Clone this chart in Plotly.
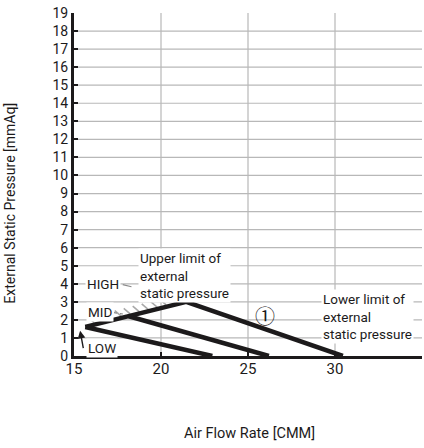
import numpy as np
import plotly.graph_objects as go

# Fan performance envelope (air flow rate vs external static pressure)
upper_x = [15.65, 21.45, 30.45]   # HIGH tap: upper / lower limit of ESP
upper_y = [1.61, 3.0, 0.0]
mid_x = [18.15, 26.2]             # MID tap
mid_y = [2.2, 0.0]
low_x = [15.65, 22.95]            # LOW tap
low_y = [1.61, 0.0]

x_ticks = [15, 20, 25, 30, 35]
y_ticks = list(range(0, 20))

FONT = "Roboto, 'Liberation Sans', sans-serif"
INK = "#1c1a1b"
GRID = "#b8b8b8"

fig = go.Figure()

# hatching just above the rising part of the upper limit line
hx, hy = [], []
for t in np.linspace(0.08, 0.97, 11):
    px = upper_x[0] + t * (upper_x[1] - upper_x[0])
    py = upper_y[0] + t * (upper_y[1] - upper_y[0])
    hx += [px - 0.32, px + 0.05, None]
    hy += [py + 0.42, py + 0.12, None]
fig.add_trace(go.Scatter(x=hx, y=hy, mode="lines",
                         line=dict(color="#a9a9a9", width=1.6),
                         hoverinfo="skip", showlegend=False))

for xs, ys in [(upper_x, upper_y), (mid_x, mid_y), (low_x, low_y)]:
    fig.add_trace(go.Scatter(x=xs, y=ys, mode="lines",
                             line=dict(color=INK, width=4.5),
                             hoverinfo="skip", showlegend=False))

# grid drawn as shapes so the top edge (19) stays free of a line
shapes = []
for yv in y_ticks[1:-1]:
    shapes.append(dict(type="line", xref="x", yref="y", x0=15, x1=35, y0=yv, y1=yv,
                       line=dict(color=GRID, width=1.2), layer="below"))
for xv in x_ticks[1:-1]:
    shapes.append(dict(type="line", xref="x", yref="y", x0=xv, x1=xv, y0=0, y1=19,
                       line=dict(color=GRID, width=1.2), layer="below"))

# leader lines from the tap labels
shapes.append(dict(type="line", xref="x", yref="y", x0=17.8, y0=3.95, x1=21.1, y1=3.2,
                   line=dict(color="#8a8a8a", width=1.2, dash="dash"), layer="above"))
shapes.append(dict(type="line", xref="x", yref="y", x0=17.3, y0=2.4, x1=18.0, y1=2.3,
                   line=dict(color="#8a8a8a", width=1.2, dash="dot"), layer="above"))

fig.update_layout(shapes=shapes)


def note(text, x, y, size=13.5):
    fig.add_annotation(text=text, x=x, y=y, xref="x", yref="y", showarrow=False,
                       xanchor="left", yanchor="middle", align="left",
                       font=dict(family=FONT, size=size, color=INK),
                       bgcolor="white", borderpad=1)


note("Upper limit of<br>external<br>static pressure", 18.7, 4.45)
note("Lower limit of<br>external<br>static pressure", 29.2, 2.2)
note("HIGH", 15.65, 3.98)
note("MID", 15.7, 2.44)
note("LOW", 15.7, 0.42)
fig.add_annotation(text="\u2460", x=25.95, y=2.27, xref="x", yref="y", showarrow=False,
                   font=dict(family="'Noto Sans CJK SC', 'DejaVu Sans'", size=20, color=INK))

# arrow from LOW up to the common start point
fig.add_annotation(x=15.35, y=1.4, ax=15.55, ay=0.35, xref="x", yref="y",
                   axref="x", ayref="y", text="", showarrow=True,
                   arrowhead=2, arrowsize=1.1, arrowwidth=1.4, arrowcolor=INK)

# axis titles
fig.add_annotation(text="Air Flow Rate [CMM]", x=0.505, y=-0.225,
                   xref="paper", yref="paper", yanchor="middle", showarrow=False,
                   font=dict(family=FONT, size=14.5, color=INK))
fig.add_annotation(text="External Static Pressure [mmAq]", x=-0.185, y=0.446,
                   xref="paper", yref="paper", xanchor="center", showarrow=False,
                   textangle=-90, font=dict(family=FONT, size=14, color=INK))

fig.update_xaxes(range=[15, 35], tickvals=x_ticks, showgrid=False, zeroline=False,
                 showline=True, linecolor=INK, linewidth=3,
                 ticks="inside", ticklen=4, tickwidth=2, tickcolor=INK,
                 ticklabelstandoff=-3,
                 tickfont=dict(family=FONT, size=15, color=INK))
fig.update_yaxes(range=[0, 19], tickvals=y_ticks, showgrid=False, zeroline=False,
                 showline=True, linecolor=INK, linewidth=3,
                 ticks="inside", ticklen=4, tickwidth=2, tickcolor=INK,
                 tickfont=dict(family=FONT, size=14, color=INK))

fig.update_layout(width=424, height=448,
                  margin=dict(l=74, r=2, t=13, b=92),
                  paper_bgcolor="white", plot_bgcolor="white",
                  showlegend=False)

fig.write_html("out.html")
